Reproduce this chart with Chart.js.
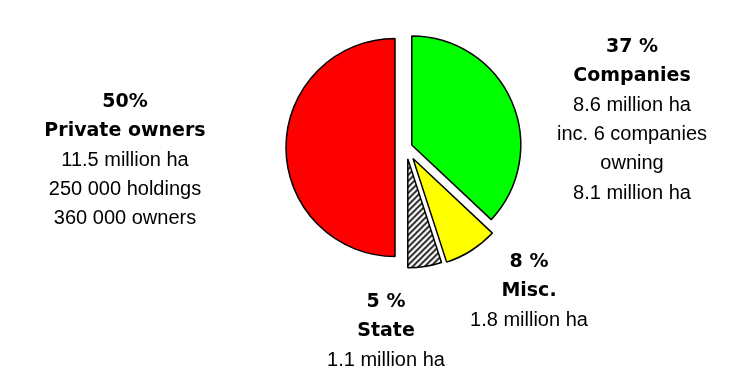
<!DOCTYPE html>
<html>
<head>
<meta charset="utf-8">
<script src="https://cdn.jsdelivr.net/npm/chart.js@4"></script>
<style>
  body { margin: 0; background: #fff; }
  #wrap { width: 745px; height: 390px; }
</style>
</head>
<body>
<div id="wrap"><canvas id="landChart" width="745" height="390"></canvas></div>
<script>
// Forest land ownership, slices clockwise from 12 o'clock
const categories = ['Companies', 'Misc.', 'State', 'Private owners'];
const shares = [37, 8, 5, 50];
const percentLabels = ['37 %', '8 %', '5 %', '50%'];
const detailLines = [
  ['8.6 million ha', 'inc. 6 companies', 'owning', '8.1 million ha'],
  ['1.8 million ha'],
  ['1.1 million ha'],
  ['11.5 million ha', '250 000 holdings', '360 000 owners']
];

// how far each slice is pulled out of the pie (px)
const explode = [6.3, 13, 11.5, 11];
// label blocks: centre x and baseline of the first line
const labelAnchors = [
  { x: 632, y: 52 },
  { x: 529, y: 267 },
  { x: 386, y: 307 },
  { x: 125, y: 107 }
];
const LINE_H = 29.3;

/**
 * White tile with black "/" hatching for the State slice
 */
function makeHatch() {
  const c = document.createElement('canvas');
  c.width = 6;
  c.height = 6;
  const g = c.getContext('2d');
  g.fillStyle = '#fff';
  g.fillRect(0, 0, 6, 6);
  g.strokeStyle = '#000';
  g.lineWidth = 1.6;
  g.beginPath();
  g.moveTo(-1, 7); g.lineTo(7, -1);
  g.moveTo(-1, 1); g.lineTo(1, -1);
  g.moveTo(5, 7); g.lineTo(7, 5);
  g.stroke();
  return g.createPattern(c, 'repeat');
}

// Draw every arc shifted along its own bisector
const explodePlugin = {
  id: 'explode',
  beforeDatasetDraw(chart, args) {
    const ctx = chart.ctx;
    args.meta.data.forEach((arc, i) => {
      const mid = (arc.startAngle + arc.endAngle) / 2;
      ctx.save();
      ctx.translate(Math.cos(mid) * explode[i], Math.sin(mid) * explode[i]);
      arc.draw(ctx);
      ctx.restore();
    });
    return false;
  }
};

// Text blocks next to the slices
const labelPlugin = {
  id: 'sliceLabels',
  afterDraw(chart) {
    const ctx = chart.ctx;
    ctx.save();
    ctx.textAlign = 'center';
    ctx.textBaseline = 'alphabetic';
    ctx.fillStyle = '#000';
    categories.forEach((name, i) => {
      const a = labelAnchors[i];
      const lines = [percentLabels[i], name].concat(detailLines[i]);
      lines.forEach((t, j) => {
        ctx.font = j < 2 ? 'bold 19px "DejaVu Sans"' : '20px "Liberation Sans"';
        ctx.fillText(t, a.x, a.y + j * LINE_H);
      });
    });
    ctx.restore();
  }
};

new Chart(document.getElementById('landChart'), {
  type: 'pie',
  data: {
    labels: categories,
    datasets: [{
      data: shares,
      backgroundColor: ['#00ff00', '#ffff00', makeHatch(), '#ff0000'],
      borderColor: '#000',
      borderWidth: 1.5
    }]
  },
  options: {
    responsive: false,
    animation: false,
    radius: 109,
    layout: { padding: { left: 67, right: 0, top: 0, bottom: 95 } },
    plugins: {
      legend: { display: false },
      tooltip: { enabled: false }
    }
  },
  plugins: [explodePlugin, labelPlugin]
});
</script>
</body>
</html>
